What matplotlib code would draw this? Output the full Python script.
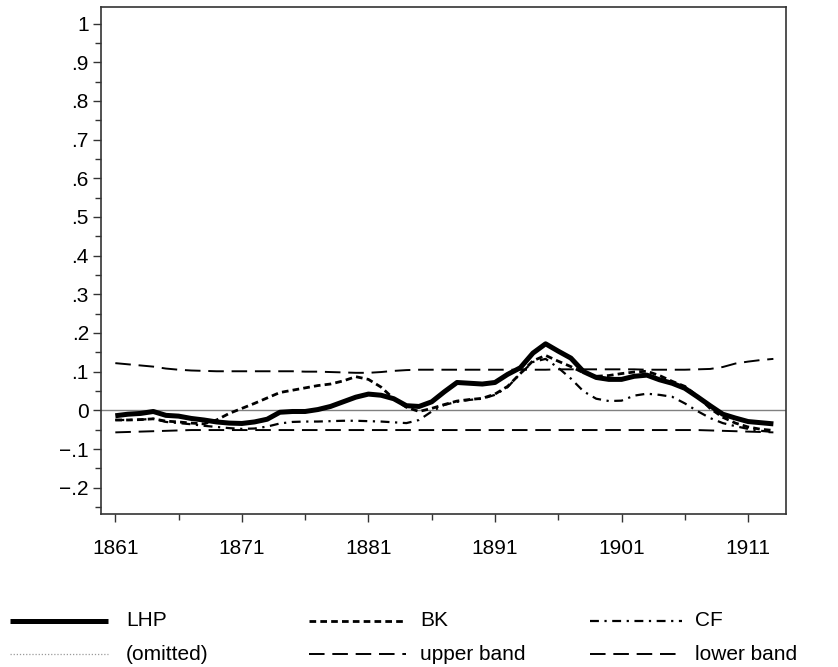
import matplotlib
matplotlib.use("Agg")
import matplotlib.pyplot as plt
from matplotlib.lines import Line2D
from matplotlib.ticker import FixedLocator, FixedFormatter, MultipleLocator

plt.rcParams['font.family'] = ['Liberation Sans', 'DejaVu Sans']

years = list(range(1861, 1914))

lhp = [-0.014, -0.010, -0.008, -0.003, -0.013, -0.015, -0.021, -0.025, -0.030, -0.033,
       -0.034, -0.030, -0.023, -0.005, -0.003, -0.003, 0.002, 0.010, 0.022, 0.034,
       0.042, 0.039, 0.030, 0.012, 0.010, 0.022, 0.048, 0.072, 0.070, 0.068,
       0.072, 0.093, 0.110, 0.148, 0.172, 0.153, 0.135, 0.100, 0.085, 0.080,
       0.080, 0.088, 0.091, 0.079, 0.070, 0.057, 0.035, 0.012, -0.010, -0.020,
       -0.029, -0.032, -0.035]

bk = [-0.025, -0.025, -0.024, -0.022, -0.028, -0.030, -0.033, -0.035, -0.025, -0.008,
      0.005, 0.018, 0.032, 0.046, 0.052, 0.058, 0.064, 0.068, 0.076, 0.087,
      0.080, 0.060, 0.030, 0.008, -0.003, 0.005, 0.015, 0.024, 0.028, 0.031,
      0.042, 0.062, 0.095, 0.128, 0.142, 0.127, 0.113, 0.097, 0.088, 0.090,
      0.095, 0.099, 0.101, 0.090, 0.075, 0.062, 0.037, 0.005, -0.018, -0.033,
      -0.043, -0.049, -0.052]

cf = [-0.025, -0.025, -0.024, -0.022, -0.030, -0.033, -0.036, -0.040, -0.043, -0.046,
      -0.048, -0.047, -0.042, -0.034, -0.030, -0.029, -0.029, -0.028, -0.027, -0.027,
      -0.028, -0.029, -0.031, -0.033, -0.025, -0.003, 0.014, 0.022, 0.027, 0.030,
      0.040, 0.060, 0.095, 0.125, 0.133, 0.110, 0.082, 0.049, 0.030, 0.024,
      0.025, 0.038, 0.043, 0.040, 0.035, 0.018, -0.002, -0.020, -0.033, -0.041,
      -0.048, -0.053, -0.056]

upper = [0.122, 0.119, 0.116, 0.113, 0.108, 0.105, 0.103, 0.102, 0.101, 0.101,
         0.101, 0.101, 0.101, 0.101, 0.101, 0.100, 0.100, 0.099, 0.098, 0.097,
         0.097, 0.099, 0.102, 0.104, 0.105, 0.105, 0.105, 0.105, 0.105, 0.105,
         0.105, 0.105, 0.105, 0.105, 0.105, 0.106, 0.106, 0.106, 0.106, 0.106,
         0.106, 0.106, 0.105, 0.105, 0.105, 0.105, 0.106, 0.107, 0.112, 0.121,
         0.126, 0.130, 0.133]

lower = [-0.057, -0.056, -0.055, -0.054, -0.053, -0.052, -0.051, -0.051, -0.051, -0.051,
         -0.051, -0.051, -0.051, -0.051, -0.051, -0.051, -0.051, -0.051, -0.051, -0.051,
         -0.051, -0.051, -0.051, -0.051, -0.051, -0.051, -0.051, -0.051, -0.051, -0.051,
         -0.051, -0.051, -0.051, -0.051, -0.051, -0.051, -0.051, -0.051, -0.051, -0.051,
         -0.051, -0.051, -0.051, -0.051, -0.051, -0.051, -0.051, -0.052, -0.053, -0.054,
         -0.055, -0.056, -0.057]

ytick_vals = [-0.2, -0.1, 0, 0.1, 0.2, 0.3, 0.4, 0.5, 0.6, 0.7, 0.8, 0.9, 1.0]
ytick_labels = ['\u2212.2', '\u2212.1', '0', '.1', '.2', '.3', '.4', '.5', '.6', '.7', '.8', '.9', '1']
xtick_vals = [1861, 1871, 1881, 1891, 1901, 1911]

legend_labels = ['LHP', 'BK', 'CF', '(omitted)', 'upper band', 'lower band']

fig = plt.figure(figsize=(8.38, 6.67), dpi=100)
ax = fig.add_axes([0.121, 0.230, 0.817, 0.759])

ax.axhline(0, color='#808080', lw=1.0, zorder=1)

styles = {
    'LHP': dict(color='black', lw=3.6, ls='-', solid_capstyle='butt'),
    'BK': dict(color='black', lw=2.0, ls=(0, (2.4, 1.5))),
    'CF': dict(color='black', lw=1.6, ls=(0, (4, 2.5, 1, 2.5))),
    '(omitted)': dict(color='#9a9a9a', lw=0.9, ls=(0, (1, 1.5))),
    'upper band': dict(color='black', lw=1.4, ls=(0, (8, 4))),
    'lower band': dict(color='black', lw=1.4, ls=(0, (8, 4))),
}

ax.plot(years, upper, **styles['upper band'], zorder=2)
ax.plot(years, lower, **styles['lower band'], zorder=2)
ax.plot(years, cf, **styles['CF'], zorder=3)
ax.plot(years, bk, **styles['BK'], zorder=4)
ax.plot(years, lhp, **styles['LHP'], zorder=5)

ax.set_xlim(1859.9, 1914.0)
ax.set_ylim(-0.267, 1.042)

ax.yaxis.set_major_locator(FixedLocator(ytick_vals))
ax.yaxis.set_major_formatter(FixedFormatter(ytick_labels))
ax.yaxis.set_minor_locator(MultipleLocator(0.05))
ax.xaxis.set_major_locator(FixedLocator(xtick_vals))
ax.xaxis.set_minor_locator(FixedLocator([y + 5 for y in xtick_vals]))

ax.tick_params(axis='both', which='major', direction='out', length=6, width=1.0,
               labelsize=15, color='#333333')
ax.tick_params(axis='both', which='minor', direction='out', length=4, width=1.0,
               color='#333333')
ax.tick_params(axis='y', pad=3)
ax.tick_params(axis='x', pad=12)
ax.tick_params(top=False, right=False, which='both')
for sp in ax.spines.values():
    sp.set_color('#333333')
    sp.set_linewidth(1.2)

# legend drawn by hand, 3 columns x 2 rows
col_handle_x = [(10, 108), (309, 406), (590, 682)]
col_text_x = [126, 420, 695]
row_y = [621, 654]
W, H = 838, 667
for i, lab in enumerate(legend_labels):
    r, c = divmod(i, 3)
    x0, x1 = col_handle_x[c]
    y = 1 - row_y[r] / H
    st = dict(styles[lab])
    fig.add_artist(Line2D([x0 / W, x1 / W], [y, y], transform=fig.transFigure, **st))
    fig.text(col_text_x[c] / W, y, lab, fontsize=15, va='center', ha='left')

fig.savefig('out.png', dpi=100)
